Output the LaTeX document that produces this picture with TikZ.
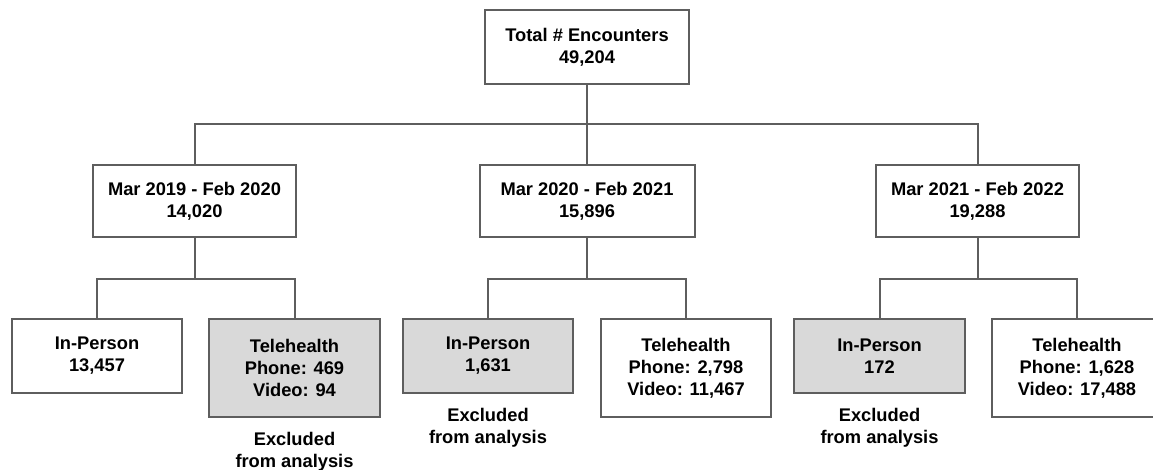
\documentclass[tikz,border=0pt]{standalone}
\usepackage{fontspec}
\setmainfont{Liberation Sans}
\usetikzlibrary{positioning}
\definecolor{linegray}{HTML}{5E5E5E}
\definecolor{boxgray}{HTML}{D9D9D9}

\begin{document}
\begin{tikzpicture}[x=1pt,y=-1pt,
  box/.style={rectangle,draw=linegray,line width=2pt,align=center,inner sep=0pt,
    font=\bfseries\fontsize{18.3}{22}\selectfont},
  excl/.style={box,fill=boxgray},
  note/.style={align=center,inner sep=0pt,font=\bfseries\fontsize{18.3}{22}\selectfont},
  wire/.style={draw=linegray,line width=2pt}]
\useasboundingbox (0,0) rectangle (1153,470);
\clip (0,0) rectangle (1153,470);

\node[box,minimum width=204pt,minimum height=74pt](t0) at (587,47) {Total \# Encounters\\49,204};

\node[box,minimum width=203pt,minimum height=72pt](p1) at (194.5,201) {Mar 2019 - Feb 2020\\14,020};
\node[box,minimum width=215pt,minimum height=72pt](p2) at (587,201) {Mar 2020 - Feb 2021\\15,896};
\node[box,minimum width=203pt,minimum height=72pt](p3) at (977.5,201) {Mar 2021 - Feb 2022\\19,288};

\node[box,minimum width=170pt,minimum height=74pt](ip1) at (97,356) {In-Person\\13,457};
\node[excl,minimum width=171pt,minimum height=98pt](th1) at (294.5,368) {Telehealth\\Phone: 469\\Video: 94};
\node[excl,minimum width=170pt,minimum height=74pt](ip2) at (488,356) {In-Person\\1,631};
\node[box,minimum width=170pt,minimum height=98pt](th2) at (686,368) {Telehealth\\Phone: 2,798\\Video: 11,467};
\node[excl,minimum width=171pt,minimum height=74pt](ip3) at (879.5,356) {In-Person\\172};
\node[box,minimum width=170pt,minimum height=98pt](th3) at (1077,368) {Telehealth\\Phone: 1,628\\Video: 17,488};

\node[note,below=14pt of th1](x1){Excluded\\from analysis};
\node[note,below=14pt of ip2](x2){Excluded\\from analysis};
\node[note,below=14pt of ip3](x3){Excluded\\from analysis};

\coordinate (c0) at (587,124);
\coordinate (c1) at (194.5,279);
\coordinate (c2) at (587,279);
\coordinate (c3) at (977.5,279);

\draw[wire](t0)--(c0);
\draw[wire](p1.north)|-(c0);
\draw[wire](p2)--(c0);
\draw[wire](p3.north)|-(c0);

\draw[wire](p1)--(c1);
\draw[wire](ip1.north)|-(c1);
\draw[wire](th1.north)|-(c1);
\draw[wire](p2)--(c2);
\draw[wire](ip2.north)|-(c2);
\draw[wire](th2.north)|-(c2);
\draw[wire](p3)--(c3);
\draw[wire](ip3.north)|-(c3);
\draw[wire](th3.north)|-(c3);
\end{tikzpicture}
\end{document}
